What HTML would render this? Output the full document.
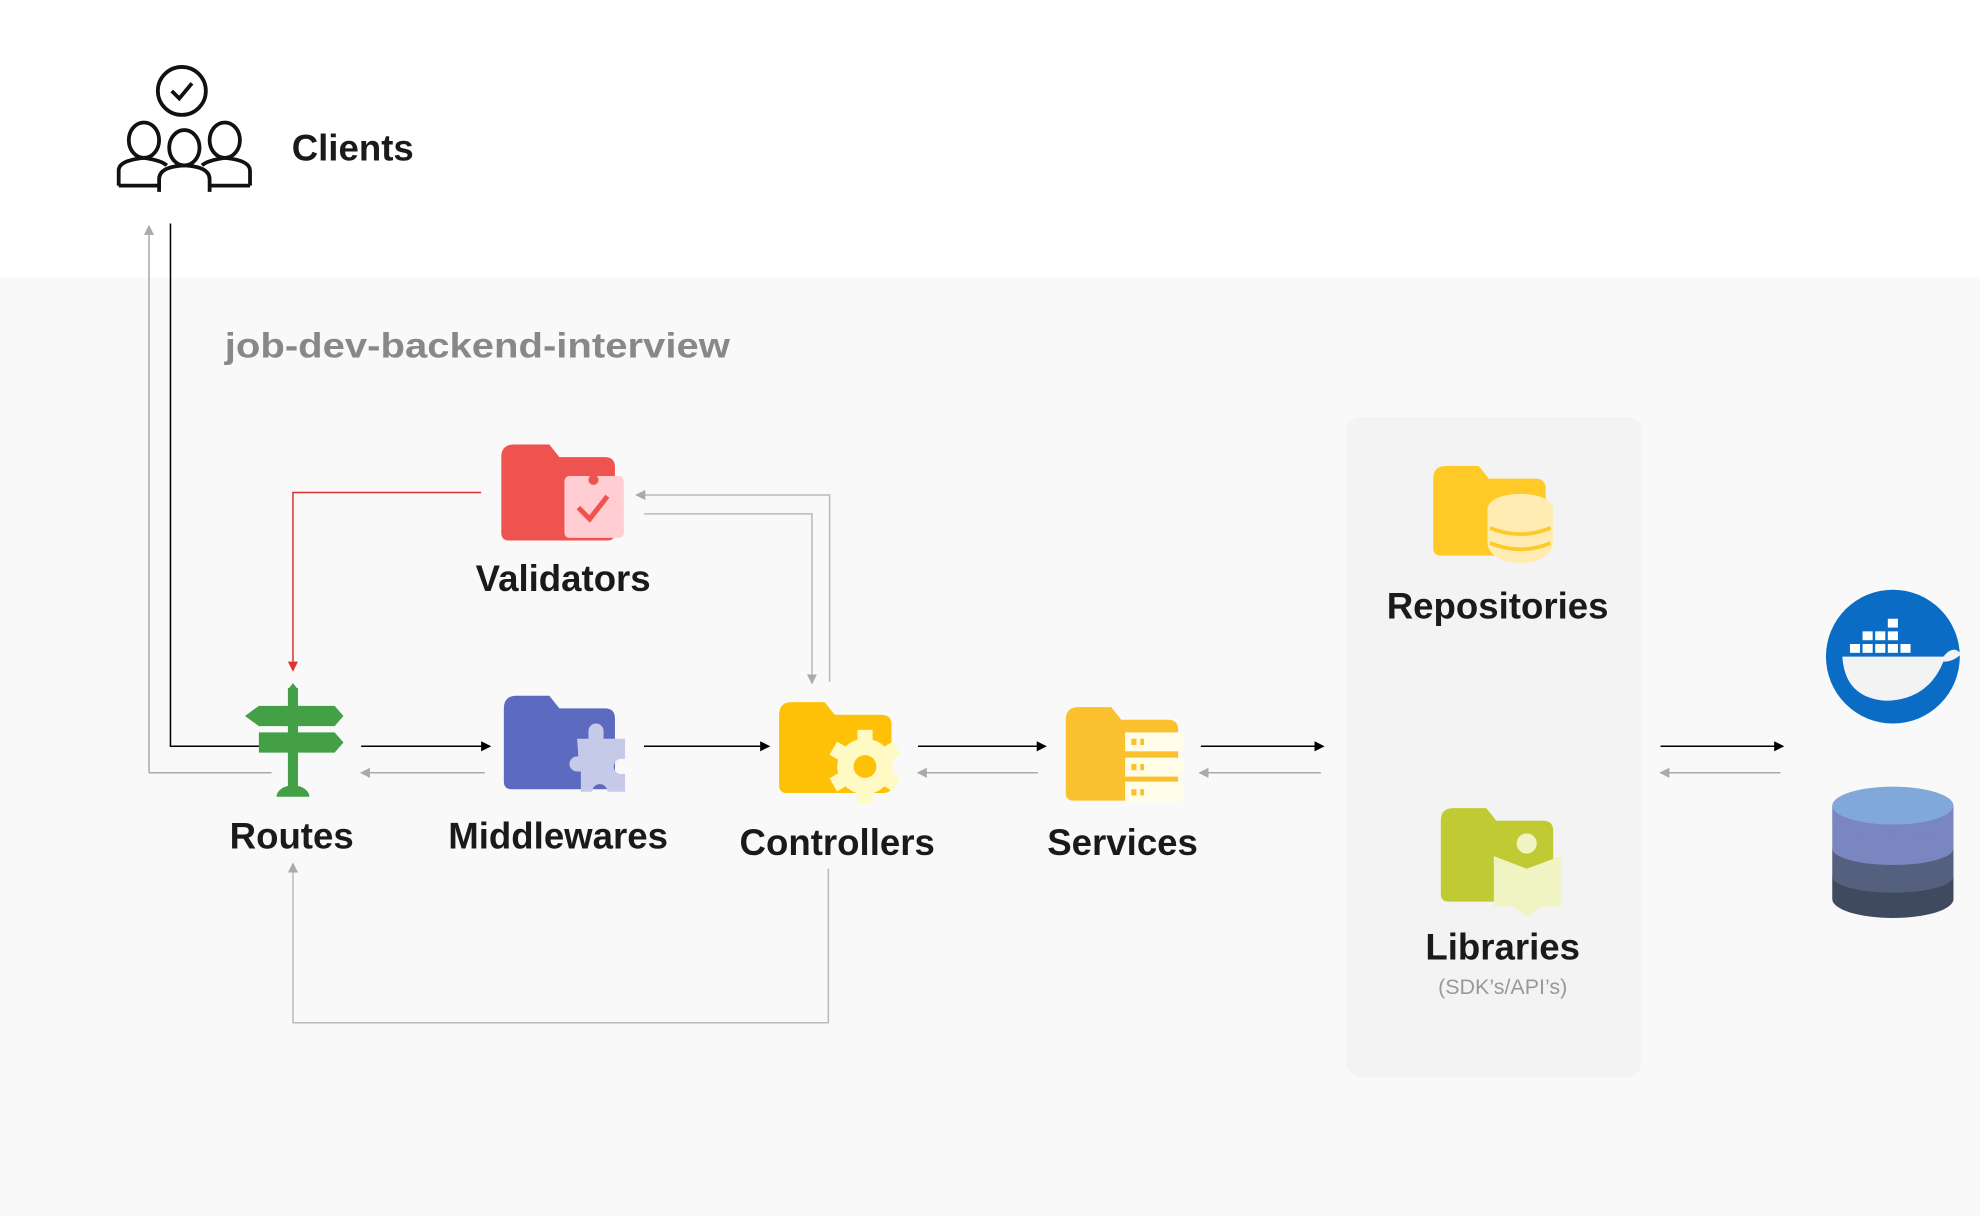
<!DOCTYPE html>
<html><head><meta charset="utf-8"><style>
html,body{margin:0;padding:0;background:#fff;}
svg{display:block;}
text{font-family:"Liberation Sans",sans-serif;font-weight:bold;}
</style></head><body>
<svg width="1980" height="1216" viewBox="0 0 1568 963" preserveAspectRatio="none" xmlns="http://www.w3.org/2000/svg">
<defs>
<marker id="ab" markerWidth="8" markerHeight="8" refX="7" refY="4" orient="auto" markerUnits="userSpaceOnUse"><path d="M0,0 L8,4 L0,8z" fill="#000"/></marker>
<marker id="ag" markerWidth="8" markerHeight="8" refX="7" refY="4" orient="auto" markerUnits="userSpaceOnUse"><path d="M0,0 L8,4 L0,8z" fill="#aaa"/></marker>
<marker id="ar" markerWidth="8" markerHeight="8" refX="7" refY="4" orient="auto" markerUnits="userSpaceOnUse"><path d="M0,0 L8,4 L0,8z" fill="#d33"/></marker>
</defs>
<rect x="0" y="0" width="1568" height="963" fill="#fff"/>
<rect x="0" y="220" width="1568" height="743" fill="#f9f9f9"/>
<rect x="1066" y="330" width="234" height="523" rx="12" fill="#f3f3f3"/>

<g fill="none" stroke="#111" stroke-width="3">
<circle cx="144" cy="72" r="19"/>
<path d="M136,72 l6,6 l10,-12"/>
<ellipse cx="114" cy="111" rx="12" ry="14"/>
<ellipse cx="178" cy="111" rx="12" ry="14"/>
<ellipse cx="146" cy="117" rx="12" ry="14"/>
<path d="M94,147 v-12 q0,-8 20,-10 q14,2 18,6"/>
<path d="M198,147 v-12 q0,-8 -20,-10 q-14,2 -18,6"/>
<path d="M126,152 v-10 q0,-10 20,-11 q20,1 20,11 v10"/>
<path d="M94,147 h32 M166,147 h32"/>
</g>
<text x="231" y="127" font-size="29" fill="#1a1a1a">Clients</text>
<text x="178" y="283" font-size="28" fill="#888" textLength="400" lengthAdjust="spacingAndGlyphs">job-dev-backend-interview</text>

<path d="M118,612 V179" stroke="#aaa" stroke-width="1.2" fill="none" marker-end="url(#ag)"/>
<path d="M118,612 H215" stroke="#aaa" stroke-width="1.2" fill="none"/>
<path d="M135,177 V591 H220" stroke="#000" stroke-width="1.2" fill="none" marker-end="url(#ab)"/>

<g stroke-width="1.2" fill="none">
<path d="M286,591 H388" stroke="#000" marker-end="url(#ab)"/>
<path d="M510,591 H609" stroke="#000" marker-end="url(#ab)"/>
<path d="M727,591 H828" stroke="#000" marker-end="url(#ab)"/>
<path d="M951,591 H1048" stroke="#000" marker-end="url(#ab)"/>
<path d="M1315,591 H1412" stroke="#000" marker-end="url(#ab)"/>
<path d="M384,612 H286" stroke="#aaa" marker-end="url(#ag)"/>
<path d="M822,612 H727" stroke="#aaa" marker-end="url(#ag)"/>
<path d="M1046,612 H950" stroke="#aaa" marker-end="url(#ag)"/>
<path d="M1410,612 H1315" stroke="#aaa" marker-end="url(#ag)"/>
<path d="M381,390 H232 V531" stroke="#d33" marker-end="url(#ar)"/>
<path d="M510,407 H643 V541" stroke="#bbb" marker-end="url(#ag)"/>
<path d="M657,540 V392 H504" stroke="#bbb" marker-end="url(#ag)"/>
<path d="M656,688 V810 H232 V684" stroke="#bbb" marker-end="url(#ag)"/>
</g>

<g fill="#43a047">
<rect x="228" y="545" width="8" height="82"/>
<path d="M232,541 l4,5 h-8z"/>
<path d="M205,559 h60 l7,8 l-7,8 h-60 l-11,-8z"/>
<path d="M205,580 h60 l7,8 l-7,8 h-60z"/>
<path d="M219,631 a13,9 0 0 1 26,0z"/>
</g>
<text x="231" y="672" font-size="29" fill="#1a1a1a" text-anchor="middle">Routes</text>

<path d="M397,362 q0,-10 10,-10 h28 l8,10 h36 q8,0 8,8 v52 q0,6 -6,6 h-78 q-6,0 -6,-6z" fill="#ef5350"/>
<rect x="447" y="377" width="47" height="49" rx="4" fill="#ffcdd2"/>
<circle cx="470" cy="380" r="4" fill="#ef5350"/>
<path d="M458,402 l9,9 l14,-18" stroke="#ef5350" stroke-width="4" fill="none"/>
<text x="446" y="468" font-size="29" fill="#1a1a1a" text-anchor="middle">Validators</text>

<path d="M399,561 q0,-10 10,-10 h26 l8,10 h36 q8,0 8,8 v50 q0,6 -6,6 h-76 q-6,0 -6,-6z" fill="#5c6bc0"/>
<path d="M457,585 h9 v-6 a6,6 0 0 1 12,0 v6 h17 v16 h-3 a6,6 0 0 0 0,12 h3 v14 h-14 a6,6 0 0 0 -12,0 h-9 v-16 h-3 a6,6 0 0 1 0,-12 h1z" fill="#c5cae9"/>
<text x="442" y="672" font-size="29" fill="#1a1a1a" text-anchor="middle">Middlewares</text>

<path d="M617,566 q0,-10 10,-10 h26 l8,10 h37 q8,0 8,8 v48 q0,6 -6,6 h-77 q-6,0 -6,-6z" fill="#ffc107"/>
<g transform="translate(685,607)">
<circle r="22" fill="#fff9c4"/>
<g fill="#fff9c4"><rect x="-6" y="-29" width="12" height="58"/><rect x="-6" y="-29" width="12" height="58" transform="rotate(60)"/><rect x="-6" y="-29" width="12" height="58" transform="rotate(120)"/></g>
<circle r="9" fill="#ffc107"/>
</g>
<text x="663" y="677" font-size="29" fill="#1a1a1a" text-anchor="middle">Controllers</text>

<path d="M844,570 q0,-10 10,-10 h26 l8,10 h37 q8,0 8,8 v50 q0,6 -6,6 h-77 q-6,0 -6,-6z" fill="#fbc02d"/>
<g fill="#fffde7"><rect x="891" y="580" width="46" height="15"/><rect x="891" y="600" width="46" height="15"/><rect x="891" y="619" width="46" height="16"/></g>
<g fill="#fbc02d"><rect x="896" y="585" width="4" height="5"/><rect x="903" y="585" width="3" height="5"/><rect x="896" y="605" width="4" height="5"/><rect x="903" y="605" width="3" height="5"/><rect x="896" y="625" width="4" height="5"/><rect x="903" y="625" width="3" height="5"/></g>
<text x="889" y="677" font-size="29" fill="#1a1a1a" text-anchor="middle">Services</text>

<path d="M1135,379 q0,-10 10,-10 h26 l8,10 h37 q8,0 8,8 v47 q0,6 -6,6 h-77 q-6,0 -6,-6z" fill="#ffca28"/>
<g fill="#ffecb3"><ellipse cx="1204" cy="430" rx="26" ry="16"/><rect x="1178" y="403" width="52" height="27"/><ellipse cx="1204" cy="403" rx="26" ry="12"/></g>
<path d="M1180,418 q24,10 48,0 M1180,430 q24,10 48,0" stroke="#ffca28" stroke-width="3" fill="none"/>
<text x="1186" y="490" font-size="29" fill="#1a1a1a" text-anchor="middle">Repositories</text>

<path d="M1141,650 q0,-10 10,-10 h26 l8,10 h37 q8,0 8,8 v50 q0,6 -6,6 h-77 q-6,0 -6,-6z" fill="#c0ca33"/>
<circle cx="1209" cy="668" r="8" fill="#f0f4c3"/>
<path d="M1183,678 l26,10 l27,-10 v40 h-16 l-11,8 l-11,-8 h-15z" fill="#f0f4c3"/>
<text x="1190" y="760" font-size="29" fill="#1a1a1a" text-anchor="middle">Libraries</text>
<text x="1190" y="787" font-size="17" fill="#999" text-anchor="middle" style="font-weight:normal">(SDK’s/API’s)</text>

<circle cx="1499" cy="520" r="53" fill="#0a6cc4"/>
<path d="M1459,520 h80 q8,-10 14,-2 q-6,6 -14,6 q-12,30 -45,31 q-33,-2 -35,-35z" fill="#f3f3f3"/>
<g fill="#fff"><rect x="1465" y="510" width="8" height="7"/><rect x="1475" y="510" width="8" height="7"/><rect x="1485" y="510" width="8" height="7"/><rect x="1495" y="510" width="8" height="7"/><rect x="1505" y="510" width="8" height="7"/><rect x="1475" y="500" width="8" height="7"/><rect x="1485" y="500" width="8" height="7"/><rect x="1495" y="500" width="8" height="7"/><rect x="1495" y="490" width="8" height="7"/></g>

<g>
<path d="M1451,694 v18 a48,15 0 0 0 96,0 v-18z" fill="#3f4a5e"/>
<ellipse cx="1499" cy="694" rx="48" ry="13" fill="#3f4a5e"/>
<path d="M1451,672 v22 a48,13 0 0 0 96,0 v-22z" fill="#55607e"/>
<path d="M1451,650 v22 a48,13 0 0 0 96,0 v-22z" fill="#7986c0"/>
<path d="M1451,638 v12 a48,13 0 0 0 96,0 v-12z" fill="#7986c0"/>
<ellipse cx="1499" cy="638" rx="48" ry="15" fill="#80a8d8"/>
</g>
</svg>
</body></html>
